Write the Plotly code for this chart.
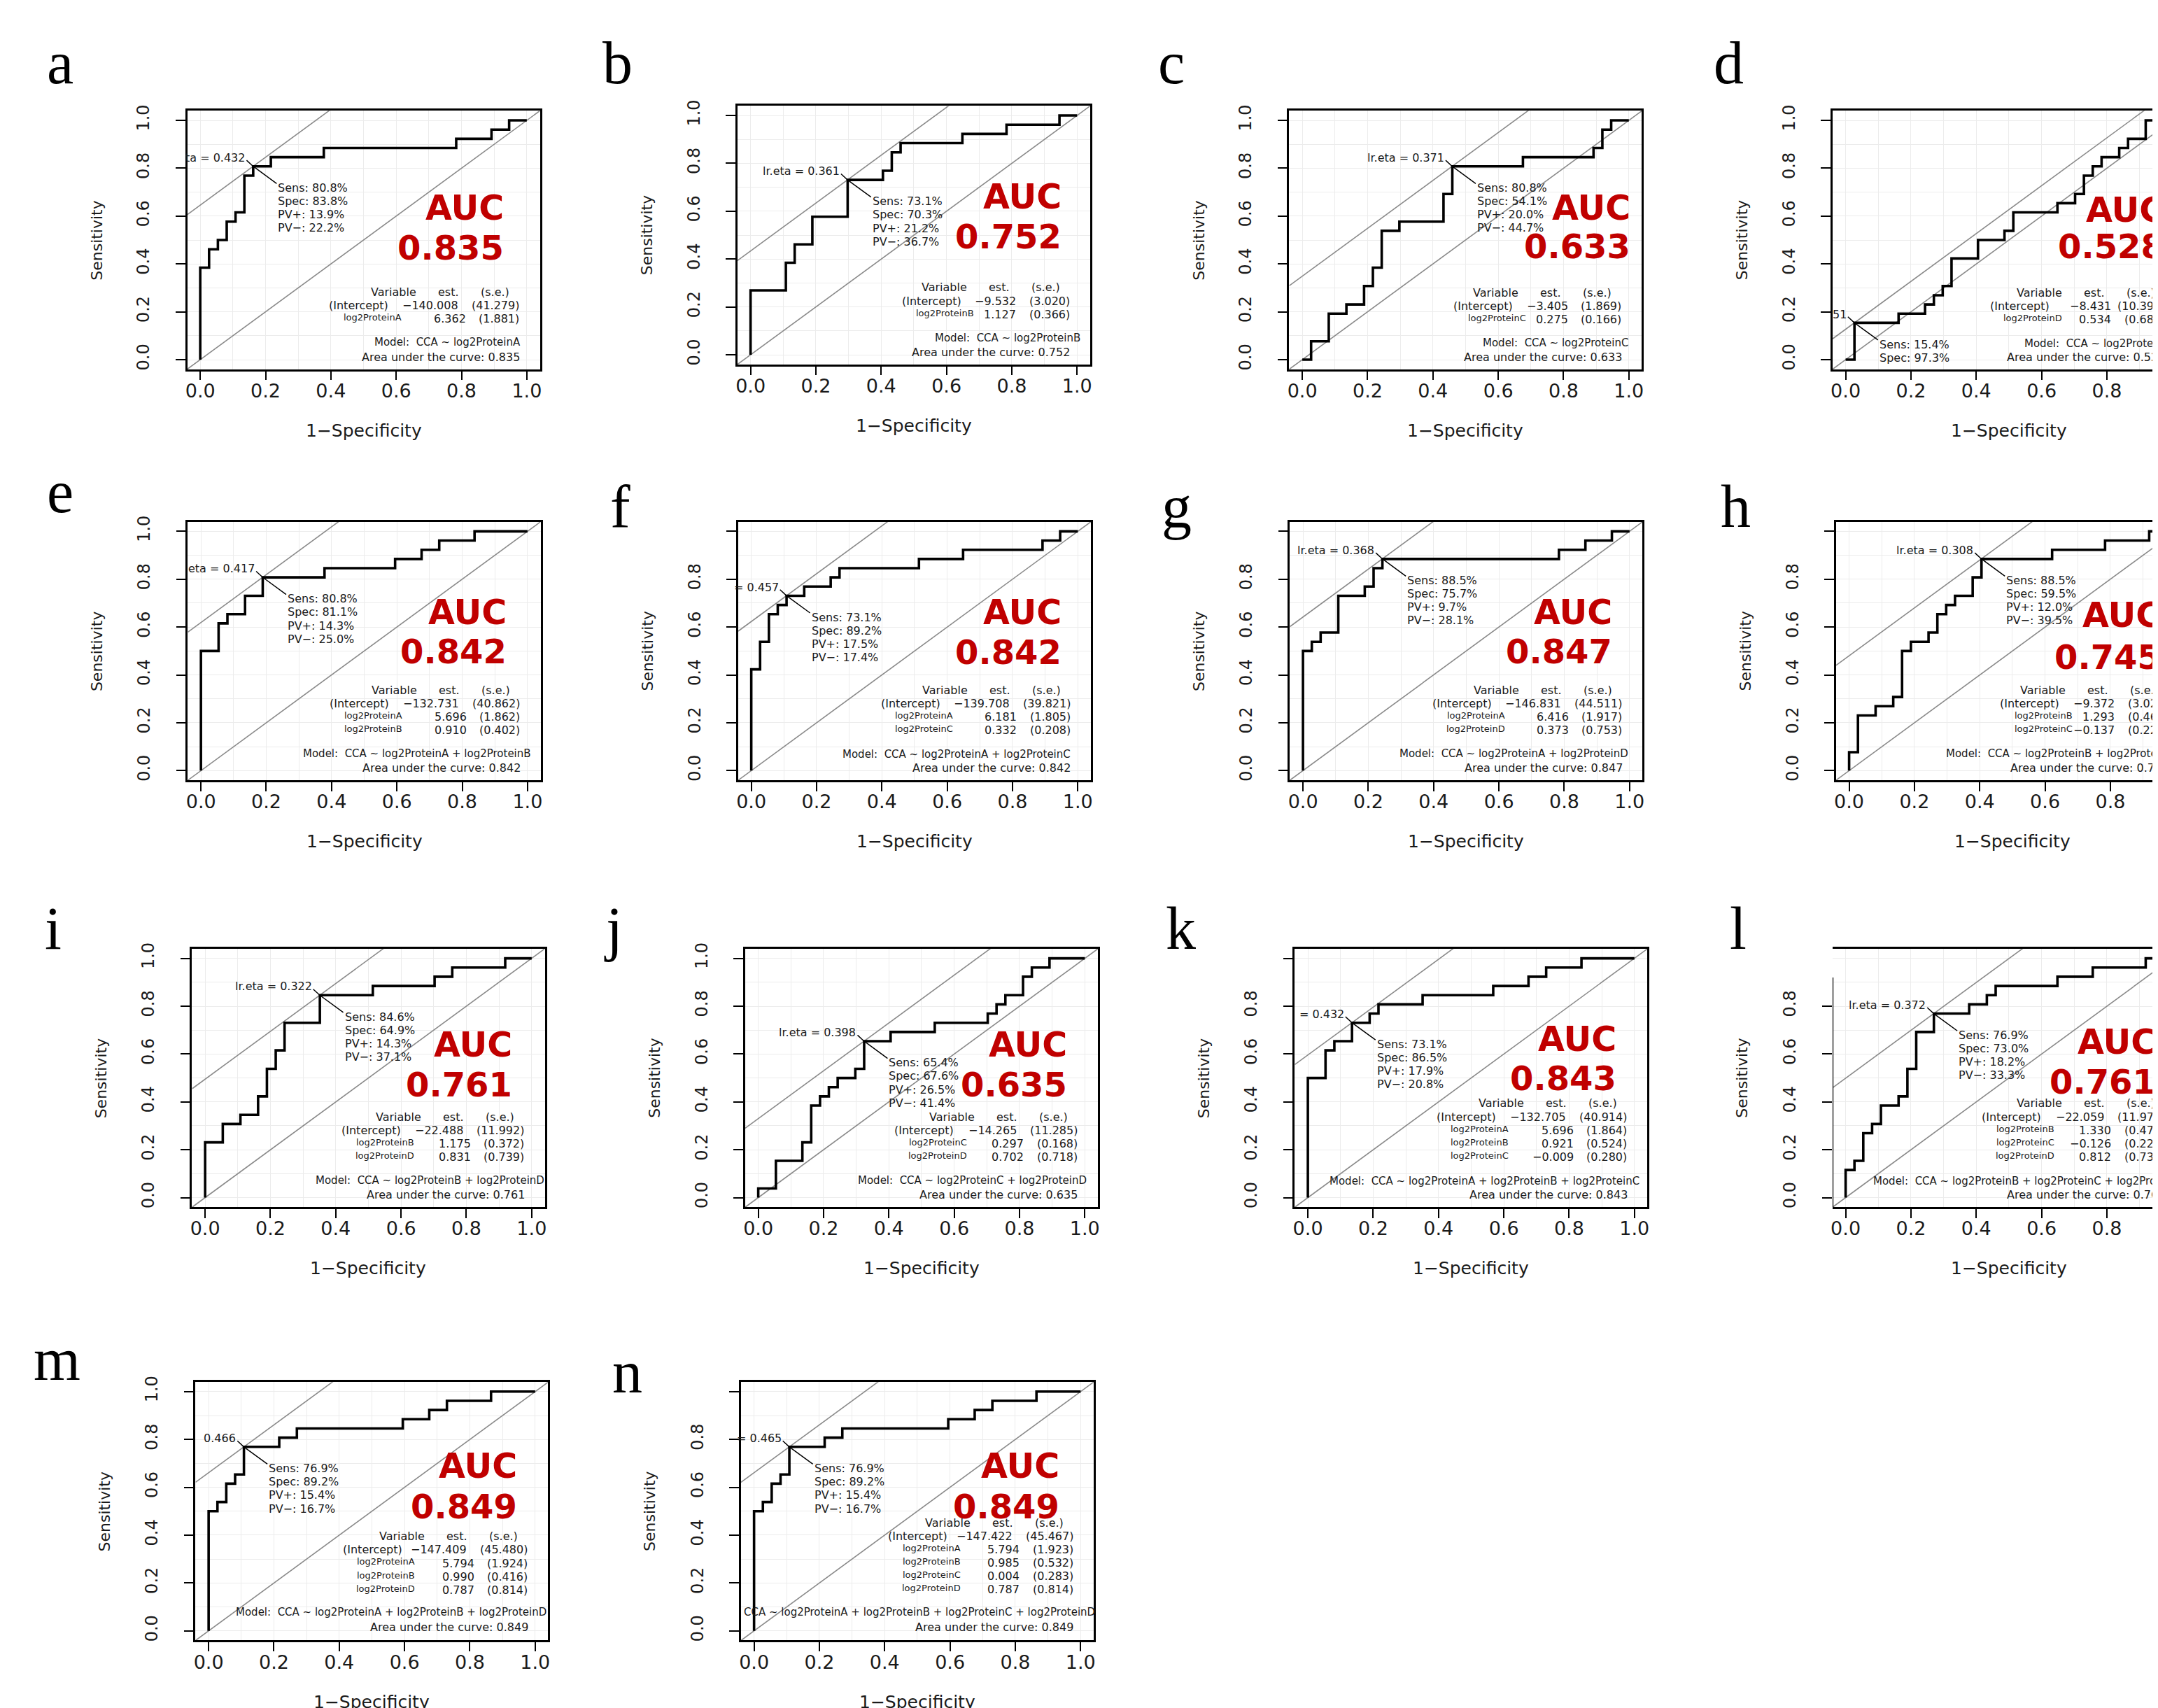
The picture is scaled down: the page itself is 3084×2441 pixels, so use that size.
import plotly.graph_objects as go

W, H = 3084, 2441
N_POS, N_NEG = 26, 37          # cases / controls

PANELS = list("abcdefghijklmn")

# ---------------- ROC staircases: false-positive count and true-positive count at each rise
FP_A = [0, 1, 2, 3, 4, 5, 6, 8, 14, 29, 33, 35]
TP_A = [10, 12, 13, 15, 16, 20, 21, 22, 23, 24, 25, 26]
FP_B = [0, 4, 5, 7, 11, 15, 16, 17, 24, 29, 35]
TP_B = [7, 10, 12, 15, 19, 20, 22, 23, 24, 25, 26]
FP_C = [1, 3, 5, 7, 8, 9, 11, 16, 17, 25, 33, 34, 35]
TP_C = [2, 5, 6, 8, 10, 14, 15, 18, 21, 22, 23, 25, 26]
FP_D = [1, 6, 9, 10, 11, 12, 15, 18, 19, 24, 26, 27, 28, 29, 31, 32, 34]
TP_D = [4, 5, 6, 7, 8, 11, 13, 14, 16, 17, 18, 20, 21, 22, 23, 24, 26]
FP_E = [0, 2, 3, 5, 7, 14, 22, 25, 27, 31]
TP_E = [13, 16, 17, 19, 21, 22, 23, 24, 25, 26]
FP_F = [0, 1, 2, 3, 4, 6, 9, 10, 19, 24, 33, 35]
TP_F = [11, 14, 17, 18, 19, 20, 21, 22, 23, 24, 25, 26]
FP_G = [0, 1, 2, 4, 7, 8, 9, 29, 32, 35]
TP_G = [13, 14, 15, 19, 20, 22, 23, 24, 25, 26]
FP_H = [0, 1, 3, 5, 6, 7, 9, 10, 11, 12, 14, 15, 23, 29, 34]
TP_H = [2, 6, 7, 8, 13, 14, 15, 17, 18, 19, 21, 23, 24, 25, 26]
FP_I = [0, 2, 4, 6, 7, 8, 9, 13, 19, 26, 28, 34]
TP_I = [6, 8, 9, 11, 14, 16, 19, 22, 23, 24, 25, 26]
FP_J = [0, 2, 5, 6, 7, 8, 9, 11, 12, 15, 20, 26, 27, 28, 30, 31, 33]
TP_J = [1, 4, 6, 10, 11, 12, 13, 14, 17, 18, 19, 20, 21, 22, 24, 25, 26]
FP_K = [0, 2, 3, 5, 7, 8, 13, 21, 25, 27, 31]
TP_K = [13, 16, 17, 19, 20, 21, 22, 23, 24, 25, 26]
FP_L = [0, 1, 2, 3, 4, 6, 7, 8, 10, 14, 16, 17, 24, 28, 34]
TP_L = [3, 4, 7, 8, 10, 11, 14, 18, 20, 21, 22, 23, 24, 25, 26]
FP_M = [0, 1, 2, 3, 4, 8, 10, 22, 25, 27, 32]
TP_M = [13, 14, 16, 17, 20, 21, 22, 23, 24, 25, 26]
FP_N = [0, 1, 2, 3, 4, 8, 10, 22, 25, 27, 32]
TP_N = [13, 14, 16, 17, 20, 21, 22, 23, 24, 25, 26]

# ---------------- optimal cut-point statistics (%)
SENS = [80.8, 73.1, 80.8, 15.4, 80.8, 73.1, 88.5, 88.5, 84.6, 65.4, 73.1, 76.9, 76.9, 76.9]
SPEC = [83.8, 70.3, 54.1, 97.3, 81.1, 89.2, 75.7, 59.5, 64.9, 67.6, 86.5, 73.0, 89.2, 89.2]
PV_POS = [13.9, 21.2, 20.0, 27.0, 14.3, 17.5, 9.7, 12.0, 14.3, 26.5, 17.9, 18.2, 15.4, 15.4]
PV_NEG = [22.2, 36.7, 44.7, None, 25.0, 17.4, 28.1, 39.5, 37.1, 41.4, 20.8, 33.3, 16.7, 16.7]
LR_ETA_TEXT = ["ta = 0.432", "lr.eta = 0.361", "lr.eta = 0.371", "51", "eta = 0.417", "= 0.457",
               "lr.eta = 0.368", "lr.eta = 0.308", "lr.eta = 0.322", "lr.eta = 0.398", "= 0.432",
               "lr.eta = 0.372", "0.466", "= 0.465"]
AUC = [0.835, 0.752, 0.633, 0.528, 0.842, 0.842, 0.847, 0.745, 0.761, 0.635, 0.843, 0.761, 0.849, 0.849]

# ---------------- logistic model coefficient tables
VARS_A = ["log2ProteinA"]; EST_A = [-140.008, 6.362]; SE_A = [41.279, 1.881]
VARS_B = ["log2ProteinB"]; EST_B = [-9.532, 1.127]; SE_B = [3.020, 0.366]
VARS_C = ["log2ProteinC"]; EST_C = [-3.405, 0.275]; SE_C = [1.869, 0.166]
VARS_D = ["log2ProteinD"]; EST_D = [-8.431, 0.534]; SE_D = [10.399, 0.686]
VARS_E = ["log2ProteinA", "log2ProteinB"]; EST_E = [-132.731, 5.696, 0.910]; SE_E = [40.862, 1.862, 0.402]
VARS_F = ["log2ProteinA", "log2ProteinC"]; EST_F = [-139.708, 6.181, 0.332]; SE_F = [39.821, 1.805, 0.208]
VARS_G = ["log2ProteinA", "log2ProteinD"]; EST_G = [-146.831, 6.416, 0.373]; SE_G = [44.511, 1.917, 0.753]
VARS_H = ["log2ProteinB", "log2ProteinC"]; EST_H = [-9.372, 1.293, -0.137]; SE_H = [3.022, 0.462, 0.225]
VARS_I = ["log2ProteinB", "log2ProteinD"]; EST_I = [-22.488, 1.175, 0.831]; SE_I = [11.992, 0.372, 0.739]
VARS_J = ["log2ProteinC", "log2ProteinD"]; EST_J = [-14.265, 0.297, 0.702]; SE_J = [11.285, 0.168, 0.718]
VARS_K = ["log2ProteinA", "log2ProteinB", "log2ProteinC"]; EST_K = [-132.705, 5.696, 0.921, -0.009]; SE_K = [40.914, 1.864, 0.524, 0.280]
VARS_L = ["log2ProteinB", "log2ProteinC", "log2ProteinD"]; EST_L = [-22.059, 1.330, -0.126, 0.812]; SE_L = [11.973, 0.471, 0.228, 0.736]
VARS_M = ["log2ProteinA", "log2ProteinB", "log2ProteinD"]; EST_M = [-147.409, 5.794, 0.990, 0.787]; SE_M = [45.480, 1.924, 0.416, 0.814]
VARS_N = ["log2ProteinA", "log2ProteinB", "log2ProteinC", "log2ProteinD"]; EST_N = [-147.422, 5.794, 0.985, 0.004, 0.787]; SE_N = [45.467, 1.923, 0.532, 0.283, 0.814]

FP = dict(zip(PANELS, [FP_A, FP_B, FP_C, FP_D, FP_E, FP_F, FP_G, FP_H, FP_I, FP_J, FP_K, FP_L, FP_M, FP_N]))
TP = dict(zip(PANELS, [TP_A, TP_B, TP_C, TP_D, TP_E, TP_F, TP_G, TP_H, TP_I, TP_J, TP_K, TP_L, TP_M, TP_N]))
VARS = dict(zip(PANELS, [VARS_A, VARS_B, VARS_C, VARS_D, VARS_E, VARS_F, VARS_G, VARS_H, VARS_I, VARS_J, VARS_K, VARS_L, VARS_M, VARS_N]))
EST = dict(zip(PANELS, [EST_A, EST_B, EST_C, EST_D, EST_E, EST_F, EST_G, EST_H, EST_I, EST_J, EST_K, EST_L, EST_M, EST_N]))
SE = dict(zip(PANELS, [SE_A, SE_B, SE_C, SE_D, SE_E, SE_F, SE_G, SE_H, SE_I, SE_J, SE_K, SE_L, SE_M, SE_N]))

# ---------------- layout (pixels of the page) ----------------
BOX_W, BOX_H = 505, 371
XMIN, XMAX = -0.04, 1.04
PXU_X = BOX_W / (XMAX - XMIN)
PXU_Y = BOX_H / (XMAX - XMIN)
BOX_POS = {"a": (257, 142), "b": (1045, 135), "c": (1835, 142), "d": (2613, 142),
           "e": (258, 732), "f": (1046, 732), "g": (1836, 732), "h": (2618, 732),
           "i": (264, 1345), "j": (1056, 1345), "k": (1843, 1345), "l": (2613, 1345),
           "m": (269, 1967), "n": (1050, 1967)}
LETTER_POS = {"a": (75, 73), "b": (873, 73), "c": (1666, 73), "d": (2464, 73),
              "e": (75, 689), "f": (877, 710), "g": (1674, 710), "h": (2474, 710),
              "i": (65, 1316), "j": (867, 1316), "k": (1680, 1316), "l": (2478, 1316),
              "m": (71, 1935), "n": (887, 1953)}
SHOW_Y1_LABEL = {"a": True, "b": True, "c": True, "d": True, "e": True, "f": False, "g": False,
                 "h": False, "i": True, "j": True, "k": False, "l": False, "m": True, "n": False}
# AUC label: right x, y of "AUC", y of value (data units)
AUC_POS = {"a": (0.933, 0.632, 0.467), "b": (0.957, 0.659, 0.494), "c": (1.01, 0.633, 0.473),
           "d": (0.98, 0.624, 0.473), "e": (0.94, 0.659, 0.499), "f": (0.954, 0.660, 0.495),
           "g": (0.951, 0.660, 0.4995), "h": (0.958, 0.650, 0.475), "i": (0.944, 0.638, 0.473),
           "j": (0.95, 0.638, 0.473), "k": (0.949, 0.662, 0.4975), "l": (0.954, 0.648, 0.483),
           "m": (0.95, 0.689, 0.52), "n": (0.94, 0.689, 0.52)}
TABLE_Y = {"a": 0.283, "b": 0.281, "c": 0.279, "d": 0.279, "e": 0.336, "f": 0.337, "g": 0.336,
           "h": 0.337, "i": 0.3375, "j": 0.3375, "k": 0.394, "l": 0.394, "m": 0.395, "n": 0.452}
NAME_R = {"a": 0.58, "b": 0.649, "c": 0.649, "d": 0.628, "e": 0.58, "f": 0.583, "g": 0.583,
          "h": 0.649, "i": 0.605, "j": 0.603, "k": 0.58, "l": 0.604, "m": 0.597, "n": 0.597}
MODEL_POS = {"a": (0.985, "right", 0.072), "b": (1.015, "right", 0.070), "c": (1.003, "right", 0.069),
             "d": (1.0, "right", 0.068), "e": (1.015, "right", 0.070), "f": (0.982, "right", 0.068),
             "g": (1.0, "right", 0.070), "h": (1.0, "right", 0.070), "i": (1.044, "right", 0.071),
             "j": (1.01, "right", 0.073), "k": (1.02, "right", 0.068), "l": (0.081, "left", 0.068),
             "m": (1.04, "right", 0.079), "n": (-0.035, "left", 0.079)}
AREA_Y = {p: 0.011 for p in PANELS}
AREA_Y["m"] = 0.015
AREA_Y["n"] = 0.015

FONT = "DejaVu Sans"
SERIF = "Liberation Serif"
RED = "#c00000"
GRAY = "#8a8a8a"
TXT = "#1a1a1a"


def fmt(v):
    s = f"{abs(v):.3f}"
    return ("\u2212" + s) if v < 0 else s


fig = go.Figure()
ann = []
shapes = []

for idx, pid in enumerate(PANELS):
    n = idx + 1
    sfx = "" if n == 1 else str(n)
    xref, yref = "x" + sfx, "y" + sfx
    left, top = BOX_POS[pid]
    right = min(left + BOX_W, W)
    cut = left + BOX_W > W
    bottom = top + BOX_H
    x_hi = XMIN + (right - left) / PXU_X

    def to_paper(x, y, left=left, bottom=bottom):
        return (left + (x - XMIN) * PXU_X) / W, 1 - (bottom - (y - XMIN) * PXU_Y) / H

    # axes
    yvals = [0, 0.2, 0.4, 0.6, 0.8] if pid == "l" else [0, 0.2, 0.4, 0.6, 0.8, 1.0]
    ytext = [f"{v:.1f}" for v in yvals]
    if pid != "l" and not SHOW_Y1_LABEL[pid]:
        ytext[-1] = ""
    grid_minor = dict(dtick=0.1, tick0=0, showgrid=True, gridcolor="#ececec", gridwidth=1, ticks="")
    fig.layout["xaxis" + sfx] = dict(
        domain=[left / W, right / W], anchor=yref, range=[XMIN, x_hi],
        tickvals=[0, 0.2, 0.4, 0.6, 0.8, 1.0], ticktext=["0.0", "0.2", "0.4", "0.6", "0.8", "1.0"],
        ticks="outside", ticklen=13, tickwidth=2, tickcolor="black",
        tickfont=dict(family=FONT, size=27, color=TXT), ticklabelstandoff=-8,
        showline=True, linecolor="black", linewidth=2.5, mirror=True,
        showgrid=True, gridcolor="#ececec", gridwidth=1, minor=grid_minor,
        zeroline=False, fixedrange=True)
    fig.layout["yaxis" + sfx] = dict(
        domain=[1 - bottom / H, 1 - top / H], anchor=xref, range=[XMIN, XMAX],
        tickvals=yvals, ticktext=ytext, tickangle=-90,
        ticks="outside", ticklen=14, tickwidth=2, tickcolor="black",
        tickfont=dict(family=FONT, size=24, color=TXT), ticklabelstandoff=28,
        showline=(pid != "l"), linecolor="black", linewidth=2.5, mirror=(not cut),
        showgrid=True, gridcolor="#ececec", gridwidth=1, minor=grid_minor,
        zeroline=False, fixedrange=True)
    if pid == "l":
        shapes.append(dict(type="line", xref=xref, yref=yref, x0=XMIN, x1=XMIN, y0=XMIN, y1=0.92,
                           line=dict(color="black", width=2.5)))

    # reference lines
    sens = SENS[idx] / 100
    fpr = 1 - SPEC[idx] / 100
    c = sens - fpr
    fig.add_trace(go.Scatter(x=[XMIN, XMAX], y=[XMIN, XMAX], mode="lines", xaxis=xref, yaxis=yref,
                             line=dict(color=GRAY, width=1.6), hoverinfo="skip", showlegend=False))
    fig.add_trace(go.Scatter(x=[XMIN, XMAX], y=[XMIN + c, XMAX + c], mode="lines", xaxis=xref, yaxis=yref,
                             line=dict(color=GRAY, width=1.6), hoverinfo="skip", showlegend=False))

    # ROC staircase
    xs = [0] + FP[pid] + [N_NEG]
    ys = [0] + TP[pid] + [N_POS]
    fig.add_trace(go.Scatter(x=[v / N_NEG for v in xs], y=[v / N_POS for v in ys], mode="lines",
                             line=dict(color="black", width=3.6, shape="hv"), xaxis=xref, yaxis=yref,
                             hoverinfo="skip", showlegend=False))

    # pointer lines at the optimal cut
    fig.add_trace(go.Scatter(x=[fpr - 0.02, fpr, fpr + 0.072], y=[sens + 0.025, sens, sens - 0.072],
                             mode="lines", line=dict(color="black", width=1.5), xaxis=xref, yaxis=yref,
                             hoverinfo="skip", showlegend=False))

    def a_data(text, x, y, xanchor, size, color=TXT, family=FONT, to_paper=to_paper):
        px, py = to_paper(x, y)
        ann.append(dict(text=text, x=px, y=py, xref="paper", yref="paper", xanchor=xanchor,
                        yanchor="middle", showarrow=False, font=dict(family=family, size=size, color=color)))

    a_data(LR_ETA_TEXT[idx], fpr - 0.02, sens + 0.036, "right", 16)
    stats = [("Sens", SENS[idx]), ("Spec", SPEC[idx]), ("PV+", PV_POS[idx]), ("PV\u2212", PV_NEG[idx])]
    for k, (lab, val) in enumerate(stats):
        yy = sens - 0.09 - 0.056 * k
        if val is None or yy < -0.02:
            continue
        a_data(f"{lab}: {val:.1f}%", fpr + 0.072, yy, "left", 16)

    # AUC
    ax, ay1, ay2 = AUC_POS[pid]
    a_data("<b>AUC</b>", ax, ay1, "right", 49, RED)
    a_data(f"<b>{AUC[idx]:.3f}</b>", ax, ay2, "right", 48, RED)

    # coefficient table
    ty = TABLE_Y[pid]
    a_data("Variable", 0.667, ty, "right", 16)
    a_data("est.", 0.797, ty, "right", 16)
    a_data("(s.e.)", 0.952, ty, "right", 16)
    names = ["(Intercept)"] + VARS[pid]
    for r, (nm, e, s) in enumerate(zip(names, EST[pid], SE[pid])):
        yy = ty - 0.056 * (r + 1)
        if r == 0:
            a_data(nm, NAME_R[pid], yy, "right", 16)
        else:
            a_data(nm, NAME_R[pid] + 0.04, yy + 0.006, "right", 13)
        est_r = 0.795 if abs(e) >= 10 else 0.818
        a_data(fmt(e), est_r, yy, "right", 16)
        a_data(f"({s:.3f})", 0.982, yy, "right", 16)

    mx, manchor, my = MODEL_POS[pid]
    model_txt = "CCA ~ " + " + ".join(VARS[pid])
    if pid != "n":
        model_txt = "Model:\u00a0\u00a0" + model_txt
    a_data(model_txt, mx, my, manchor, 15)
    a_data(f"Area under the curve: {AUC[idx]:.3f}", 0.983, AREA_Y[pid], "right", 16)

    # axis titles and panel letter (page coordinates)
    x0px = left + (0 - XMIN) * PXU_X
    ann.append(dict(text="Sensitivity", x=(left - 130) / W, y=1 - (bottom - (0.5 - XMIN) * PXU_Y) / H,
                    xref="paper", yref="paper", xanchor="center", yanchor="middle", textangle=-90,
                    showarrow=False, font=dict(family=FONT, size=22, color=TXT)))
    ann.append(dict(text="1\u2212Specificity", x=(x0px + 0.5 * PXU_X) / W, y=1 - (bottom + 88) / H,
                    xref="paper", yref="paper", xanchor="center", yanchor="middle",
                    showarrow=False, font=dict(family=FONT, size=25, color=TXT)))
    lx, ly = LETTER_POS[pid]
    ann.append(dict(text=pid, x=lx / W, y=1 - ly / H, xref="paper", yref="paper", xanchor="center",
                    yanchor="middle", showarrow=False, font=dict(family=SERIF, size=86, color="black")))

fig.update_layout(width=W, height=H, margin=dict(l=0, r=0, t=0, b=0), paper_bgcolor="white",
                  plot_bgcolor="white", annotations=ann, shapes=shapes, showlegend=False)
fig.write_html("out.html")
